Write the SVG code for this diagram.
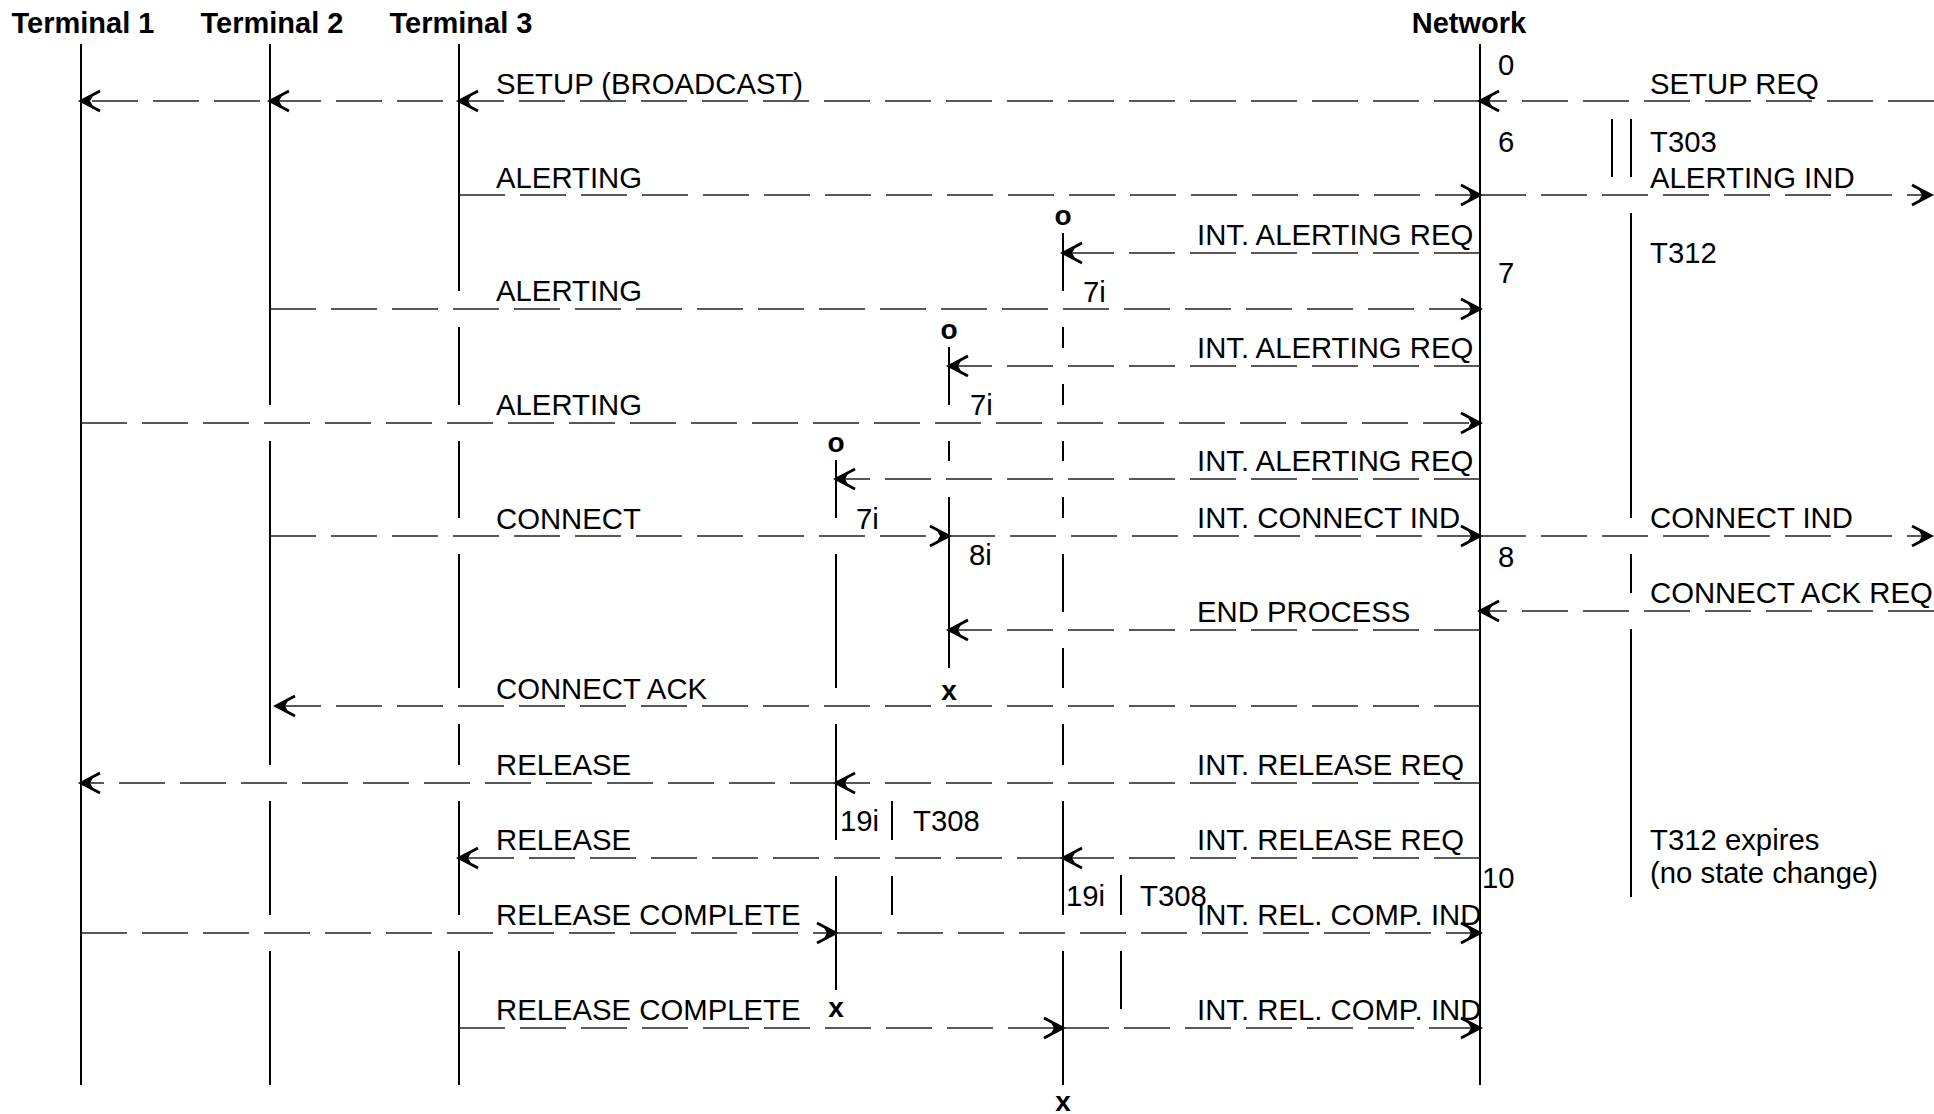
<svg xmlns="http://www.w3.org/2000/svg" width="1934" height="1114" viewBox="0 0 1934 1114">
<style>
.hdr{font-family:"Liberation Sans",Arial,sans-serif;font-weight:bold;font-size:29px;text-anchor:middle;fill:#000}
.lbl{font-family:"Liberation Sans",Arial,sans-serif;font-size:29.3px;fill:#000}
.mk{font-family:"Liberation Sans",Arial,sans-serif;font-weight:bold;font-size:28px;text-anchor:middle;fill:#000}
.life{stroke:#000;stroke-width:2;fill:none}
.msg{stroke:#222;stroke-width:1.5;fill:none;stroke-dasharray:46 15;marker-end:url(#ah)}
</style>
<defs>
<marker id="ah" viewBox="-24 -13 28 26" markerWidth="28" markerHeight="26" refX="0" refY="0" orient="auto" markerUnits="userSpaceOnUse">
<path d="M-19,-10 L0,0 L-19,10" fill="none" stroke="#000" stroke-width="2.8" stroke-linejoin="miter"/>
<path d="M0,0 L-12,-5 L-9,0 L-12,5Z" fill="#000"/>
</marker>
</defs>
<rect width="1934" height="1114" fill="#fff"/>

<g id="terminal1">
<text class="hdr" x="83" y="33">Terminal 1</text>
<path class="life" d="M81,44V1085"/>
</g>
<g id="terminal2">
<text class="hdr" x="272" y="33">Terminal 2</text>
<path class="life" d="M270,44V405M270,441V765M270,801V915M270,951V1085"/>
</g>
<g id="terminal3">
<text class="hdr" x="461" y="33">Terminal 3</text>
<path class="life" d="M459,44V291M459,327V405M459,441V518M459,554V688M459,724V765M459,801V915M459,951V1085"/>
</g>
<g id="network">
<text class="hdr" x="1469" y="33">Network</text>
<path class="life" d="M1480,44V1085"/>
<text class="lbl" x="1498" y="75">0</text>
<text class="lbl" x="1498" y="152">6</text>
<text class="lbl" x="1498" y="283">7</text>
<text class="lbl" x="1498" y="567">8</text>
<text class="lbl" x="1482" y="888">10</text>
</g>
<g id="processA">
<text class="mk" x="1063" y="225">o</text>
<path class="life" d="M1063,233V291M1063,327V348M1063,384V405M1063,441V461M1063,497V518M1063,554V612M1063,648V688M1063,724V765M1063,801V915M1063,951V1085"/>
<text class="lbl" x="1083" y="302">7i</text>
<text class="lbl" x="1066" y="906">19i</text>
<text class="mk" x="1063" y="1111">x</text>
</g>
<g id="processB">
<text class="mk" x="949" y="339">o</text>
<path class="life" d="M949,347V405M949,441V461M949,497V668"/>
<text class="lbl" x="970" y="415">7i</text>
<text class="lbl" x="969" y="565">8i</text>
<text class="mk" x="949" y="700">x</text>
</g>
<g id="processC">
<text class="mk" x="836" y="452">o</text>
<path class="life" d="M836,460V518M836,554V688M836,724V840M836,876V990"/>
<text class="lbl" x="856" y="529">7i</text>
<text class="lbl" x="840" y="831">19i</text>
<text class="mk" x="836" y="1017">x</text>
</g>
<g id="timerT303">
<path class="life" d="M1612,119V177M1631,119V177"/>
<text class="lbl" x="1650" y="152">T303</text>
</g>
<g id="timerT312">
<path class="life" d="M1631,213V518M1631,554V593M1631,629V897"/>
<text class="lbl" x="1650" y="263">T312</text>
<text class="lbl" x="1650" y="850">T312 expires</text>
<text class="lbl" x="1650" y="883">(no state change)</text>
</g>
<g id="timerT308C">
<path class="life" d="M892,801V840M892,876V915"/>
<text class="lbl" x="913" y="831">T308</text>
</g>
<g id="timerT308A">
<path class="life" d="M1121,875V915M1121,951V1009"/>
<text class="lbl" x="1140" y="906">T308</text>
</g>

<g id="connectors">
<path class="msg" style="marker-mid:url(#ah)" d="M1480,101H459H270H81"/>
<path class="msg" d="M1934,101H1480"/>
<path class="msg" d="M459,195H1480"/>
<path class="msg" d="M1480,195H1931"/>
<path class="msg" d="M1480,253H1063"/>
<path class="msg" d="M270,309H1480"/>
<path class="msg" d="M1480,366H949"/>
<path class="msg" d="M81,423H1480"/>
<path class="msg" d="M1480,479H836"/>
<path class="msg" d="M270,536H949"/>
<path class="msg" d="M949,536H1480"/>
<path class="msg" d="M1480,536H1931"/>
<path class="msg" d="M1934,611H1480"/>
<path class="msg" d="M1480,630H949"/>
<path class="msg" d="M1480,706H276"/>
<path class="msg" d="M1480,783H836"/>
<path class="msg" d="M836,783H81"/>
<path class="msg" d="M1480,858H1063"/>
<path class="msg" d="M1063,858H459"/>
<path class="msg" d="M81,933H836"/>
<path class="msg" d="M836,933H1480"/>
<path class="msg" d="M459,1028H1063"/>
<path class="msg" d="M1063,1028H1480"/>
</g>

<g id="labels">
<text class="lbl" x="496" y="94">SETUP (BROADCAST)</text>
<text class="lbl" x="1650" y="94">SETUP REQ</text>
<text class="lbl" x="496" y="188">ALERTING</text>
<text class="lbl" x="1650" y="188">ALERTING IND</text>
<text class="lbl" x="1197" y="245">INT. ALERTING REQ</text>
<text class="lbl" x="496" y="301">ALERTING</text>
<text class="lbl" x="1197" y="358">INT. ALERTING REQ</text>
<text class="lbl" x="496" y="415">ALERTING</text>
<text class="lbl" x="1197" y="471">INT. ALERTING REQ</text>
<text class="lbl" x="496" y="529">CONNECT</text>
<text class="lbl" x="1197" y="528">INT. CONNECT IND</text>
<text class="lbl" x="1650" y="528">CONNECT IND</text>
<text class="lbl" x="1650" y="603">CONNECT ACK REQ</text>
<text class="lbl" x="1197" y="622">END PROCESS</text>
<text class="lbl" x="496" y="699">CONNECT ACK</text>
<text class="lbl" x="496" y="775">RELEASE</text>
<text class="lbl" x="1197" y="775">INT. RELEASE REQ</text>
<text class="lbl" x="496" y="850">RELEASE</text>
<text class="lbl" x="1197" y="850">INT. RELEASE REQ</text>
<text class="lbl" x="496" y="925">RELEASE COMPLETE</text>
<text class="lbl" x="1197" y="925">INT. REL. COMP. IND</text>
<text class="lbl" x="496" y="1020">RELEASE COMPLETE</text>
<text class="lbl" x="1197" y="1020">INT. REL. COMP. IND</text>
</g>
</svg>
